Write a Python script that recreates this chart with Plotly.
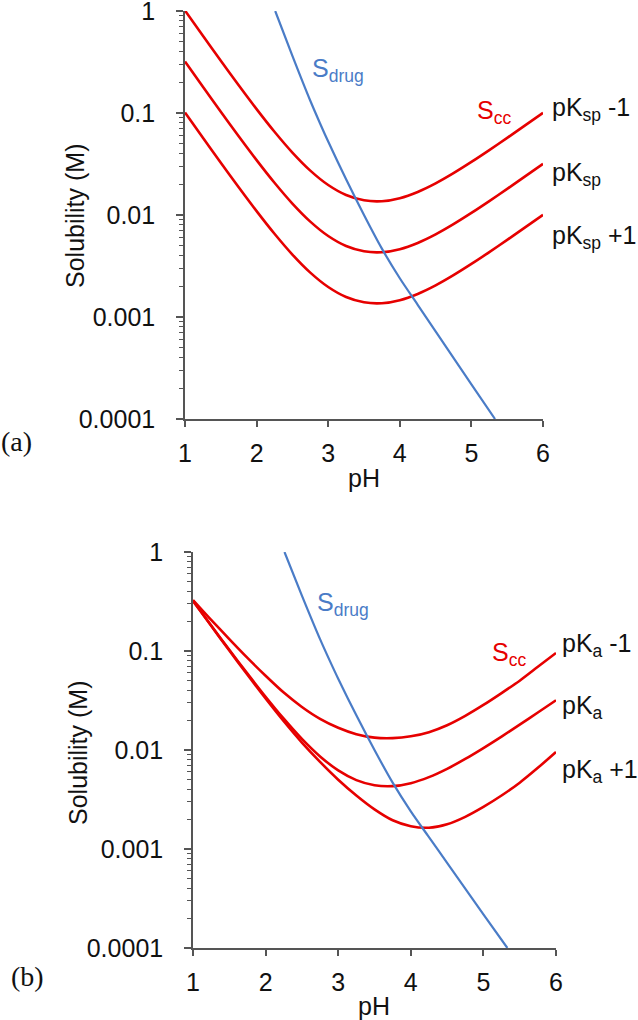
import plotly.graph_objects as go

W, H = 638, 1020

# ---------------- data ----------------
ph = [1.0, 1.25, 1.5, 1.75, 2.0, 2.25, 2.5, 2.75, 3.0, 3.25, 3.5,
      3.75, 4.0, 4.25, 4.5, 4.75, 5.0, 5.25, 5.5, 5.75, 6.0]

# panel (a): log10 of cocrystal solubility for pKsp-1, pKsp, pKsp+1
log_a_ksp_m1 = [0.004, -0.243, -0.488, -0.728, -0.962, -1.184, -1.388, -1.565, -1.706, -1.804, -1.856,
                -1.865, -1.835, -1.774, -1.690, -1.590, -1.480, -1.364, -1.244, -1.121, -0.998]
log_a_ksp = [-0.496, -0.743, -0.988, -1.228, -1.462, -1.684, -1.888, -2.065, -2.206, -2.304, -2.356,
             -2.365, -2.335, -2.274, -2.190, -2.090, -1.980, -1.864, -1.744, -1.621, -1.498]
log_a_ksp_p1 = [-0.996, -1.243, -1.488, -1.728, -1.962, -2.184, -2.388, -2.565, -2.706, -2.804, -2.856,
                -2.865, -2.835, -2.774, -2.690, -2.590, -2.480, -2.364, -2.244, -2.121, -1.998]

# panel (b): log10 of cocrystal solubility for pKa-1, pKa, pKa+1
log_b_ka_m1 = [-0.485, -0.685, -0.88, -1.07, -1.25, -1.42, -1.565, -1.685, -1.775, -1.84, -1.875,
               -1.88, -1.862, -1.82, -1.75, -1.655, -1.545, -1.425, -1.30, -1.16, -1.02]
log_b_ka = [-0.496, -0.743, -0.988, -1.228, -1.462, -1.684, -1.888, -2.065, -2.206, -2.304, -2.356,
            -2.365, -2.335, -2.274, -2.190, -2.090, -1.980, -1.864, -1.744, -1.621, -1.498]
log_b_ka_p1 = [-0.49, -0.745, -0.995, -1.24, -1.48, -1.71, -1.925, -2.12, -2.30, -2.46, -2.60,
               -2.71, -2.77, -2.785, -2.75, -2.675, -2.575, -2.46, -2.33, -2.18, -2.02]

# drug solubility (same in both panels)
ph_drug = [2.26, 2.5, 2.75, 2.885, 3.0, 3.25, 3.5, 3.75, 4.0, 4.25, 4.5, 5.0, 5.33]
log_drug = [0.0, -0.44, -0.88, -1.10, -1.28, -1.65, -2.00, -2.33, -2.62, -2.88, -3.14, -3.66, -4.0]

ytick_vals = [1, 0.1, 0.01, 0.001, 0.0001]
ytick_text = ["1", "0.1", "0.01", "0.001", "0.0001"]
xtick_vals = [1, 2, 3, 4, 5, 6]
labels_a = ["pK<sub>sp</sub> -1", "pK<sub>sp</sub>", "pK<sub>sp</sub> +1"]
labels_b = ["pK<sub>a</sub> -1", "pK<sub>a</sub>", "pK<sub>a</sub> +1"]

# ---------------- styling ----------------
RED = "#e60000"
BLUE = "#4a7cc7"
AX = "#555555"
TXT = "#111111"
FONT = "Arial, Liberation Sans, sans-serif"
SERIF = "Times New Roman, Liberation Serif, serif"


def p2x(px):
    return px / W


def p2y(py):
    return 1 - py / H


fig = go.Figure()


def red(y_log, xa, ya):
    fig.add_trace(go.Scatter(x=ph, y=[10 ** v for v in y_log], mode="lines",
                             line=dict(color=RED, width=2.6, shape="spline", smoothing=0.8),
                             xaxis=xa, yaxis=ya, showlegend=False, hoverinfo="skip"))


def blue(xa, ya):
    fig.add_trace(go.Scatter(x=ph_drug, y=[10 ** v for v in log_drug], mode="lines",
                             line=dict(color=BLUE, width=2.2, shape="spline", smoothing=0.8),
                             xaxis=xa, yaxis=ya, showlegend=False, hoverinfo="skip"))


for s in (log_a_ksp_m1, log_a_ksp, log_a_ksp_p1):
    red(s, "x", "y")
blue("x", "y")
for s in (log_b_ka_m1, log_b_ka, log_b_ka_p1):
    red(s, "x2", "y2")
blue("x2", "y2")

minor_vals = [m * 10 ** e for e in range(-4, 0) for m in range(2, 10)]


def xaxis(dom, anchor):
    return dict(domain=dom, anchor=anchor, range=[1, 6], tickvals=xtick_vals,
                showline=True, linecolor=AX, linewidth=1.6, ticks="outside",
                ticklen=6, tickwidth=1.6, tickcolor=AX, showgrid=False, zeroline=False,
                tickfont=dict(family=FONT, size=25, color=TXT), ticklabelstandoff=5,
                ticklabeloverflow="allow", automargin=False, fixedrange=True)


def yaxis(dom, anchor):
    return dict(domain=dom, anchor=anchor, type="log", range=[-4, 0],
                tickvals=ytick_vals, ticktext=ytick_text,
                showline=True, linecolor=AX, linewidth=1.6, ticks="outside",
                ticklen=7, tickwidth=1.6, tickcolor=AX, showgrid=False, zeroline=False,
                minor=dict(tickvals=minor_vals, ticks="outside", ticklen=4,
                           tickwidth=1.2, tickcolor=AX, showgrid=False),
                tickfont=dict(family=FONT, size=25, color=TXT), ticklabelstandoff=16,
                ticklabeloverflow="allow", automargin=False, fixedrange=True)


fig.update_layout(
    width=W, height=H, margin=dict(l=0, r=0, t=0, b=0, pad=0, autoexpand=False),
    paper_bgcolor="white", plot_bgcolor="white",
    xaxis=xaxis([p2x(185), p2x(543)], "y"),
    yaxis=yaxis([p2y(419), p2y(11)], "x"),
    xaxis2=xaxis([p2x(193), p2x(556)], "y2"),
    yaxis2=yaxis([p2y(948), p2y(552)], "x2"),
)

ann = []


def text(px, py, t, color=TXT, size=25, xanchor="left", angle=0, family=FONT):
    ann.append(dict(x=p2x(px), y=p2y(py), xref="paper", yref="paper", text=t,
                    showarrow=False, xanchor=xanchor, yanchor="middle", textangle=angle,
                    borderpad=0, font=dict(family=family, size=size, color=color)))


# panel a labels
text(311, 70, "S<sub>drug</sub>", BLUE)
text(476, 112, "S<sub>cc</sub>", RED)
for lab, py in zip(labels_a, [109, 174, 237]):
    text(551, py, lab)
text(364, 478, "pH", xanchor="center")
text(75, 216, "Solubility (M)", xanchor="center", angle=-90)
text(0, 441, "(a)", size=28, family=SERIF)

# panel b labels
text(316, 604, "S<sub>drug</sub>", BLUE)
text(491, 654, "S<sub>cc</sub>", RED)
for lab, py in zip(labels_b, [645, 707, 771]):
    text(561, py, lab)
text(374, 1006, "pH", xanchor="center")
text(78, 753, "Solubility (M)", xanchor="center", angle=-90)
text(10, 976, "(b)", size=28, family=SERIF)

fig.update_layout(annotations=ann)
fig.write_html("out.html", config={"displayModeBar": False},
               post_script="document.body.style.margin='0';document.body.style.overflow='hidden';")
